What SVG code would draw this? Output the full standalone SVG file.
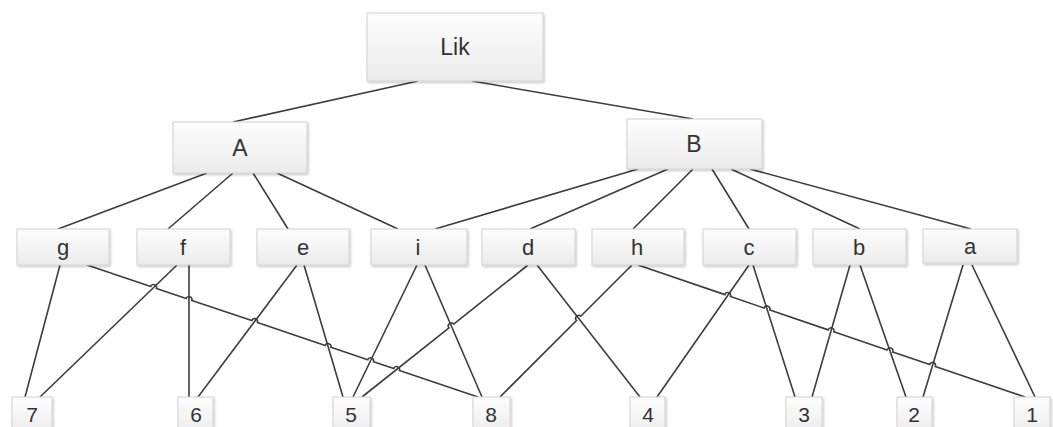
<svg xmlns="http://www.w3.org/2000/svg" width="1053" height="427" viewBox="0 0 1053 427">
<style>
  .box { fill: url(#bg); stroke: #d2d2d2; stroke-width: 1; filter: url(#sh); }
  .t { font-family: "Liberation Sans", Arial, sans-serif; fill: #333; text-anchor: middle; }
  .t1 { font-size: 23px; }
  .t2 { font-size: 22px; }
  .t3 { font-size: 21px; }
  .c line, .c path { stroke: #3d3d3d; stroke-width: 1.6; fill: none; }
</style>
<defs>
  <linearGradient id="bg" x1="0" y1="0" x2="0" y2="1">
    <stop offset="0" stop-color="#fdfdfd"/>
    <stop offset="1" stop-color="#ebebeb"/>
  </linearGradient>
  <filter id="sh" x="-10%" y="-10%" width="120%" height="130%">
    <feDropShadow dx="1.2" dy="1.5" stdDeviation="0.8" flood-color="#000" flood-opacity="0.22"/>
  </filter>
</defs>
<rect width="1053" height="427" fill="#fff"/>

<g id="connectors" class="c">
  <line x1="418" y1="81" x2="233" y2="122"/>
  <line x1="472" y1="81" x2="693" y2="119"/>
  <line x1="207" y1="173" x2="58" y2="229"/>
  <line x1="233" y1="173" x2="168" y2="229"/>
  <line x1="253" y1="173" x2="288" y2="229"/>
  <line x1="277" y1="173" x2="398" y2="229"/>
  <line x1="638" y1="169" x2="435" y2="229"/>
  <line x1="668" y1="169" x2="530" y2="229"/>
  <line x1="693" y1="169" x2="633" y2="229"/>
  <line x1="712" y1="169" x2="749" y2="229"/>
  <line x1="731" y1="169" x2="860" y2="229"/>
  <line x1="750" y1="169" x2="971" y2="229"/>
  <line x1="60" y1="265" x2="25" y2="397"/>
  <path d="M87 265 L150.76 286.52 A3 3 0 0 1 156.44 288.44 L186.16 298.48 A3 3 0 0 1 191.84 300.40 L251.76 320.62 A3 3 0 0 1 257.44 322.54 L325.21 345.42 A3 3 0 0 1 330.89 347.34 L367.76 359.78 A3 3 0 0 1 373.44 361.70 L393.76 368.56 A3 3 0 0 1 399.44 370.48 L478 397"/>
  <line x1="177" y1="265" x2="40" y2="397"/>
  <line x1="189" y1="265" x2="189" y2="397"/>
  <line x1="297" y1="265" x2="198" y2="397"/>
  <line x1="304" y1="265" x2="343" y2="397"/>
  <line x1="417" y1="265" x2="353" y2="397"/>
  <line x1="425" y1="265" x2="482" y2="397"/>
  <path d="M528 265 L453.68 324.10 A3 3 0 0 0 448.98 327.84 L362 397"/>
  <line x1="537" y1="265" x2="640" y2="397"/>
  <path d="M632 265 L580.76 316.24 A3 3 0 0 0 576.52 320.48 L500 397"/>
  <path d="M638 265 L724.86 294.63 A3 3 0 0 1 730.54 296.57 L764.16 308.03 A3 3 0 0 1 769.84 309.97 L828.16 329.86 A3 3 0 0 1 833.84 331.80 L887.06 349.95 A3 3 0 0 1 892.74 351.89 L929.66 364.48 A3 3 0 0 1 935.34 366.42 L1025 397"/>
  <line x1="749" y1="265" x2="657" y2="397"/>
  <line x1="753" y1="265" x2="795" y2="397"/>
  <line x1="850" y1="265" x2="812" y2="397"/>
  <line x1="860" y1="265" x2="906" y2="397"/>
  <line x1="963" y1="265" x2="923" y2="397"/>
  <line x1="972" y1="265" x2="1035" y2="397"/>
</g>

<g id="node-Lik"><rect class="box" x="367" y="13" width="176" height="68"/><text class="t t1" x="455" y="55">Lik</text></g>
<g id="node-A"><rect class="box" x="173" y="122" width="134" height="51"/><text class="t t1" x="240" y="156">A</text></g>
<g id="node-B"><rect class="box" x="627" y="119" width="135" height="50"/><text class="t t1" x="694" y="152">B</text></g>

<g id="node-g"><rect class="box" x="17" y="229" width="92" height="36"/><text class="t t2" x="63" y="255">g</text></g>
<g id="node-f"><rect class="box" x="137" y="229" width="93" height="36"/><text class="t t2" x="183" y="255">f</text></g>
<g id="node-e"><rect class="box" x="257" y="229" width="92" height="36"/><text class="t t2" x="303" y="255">e</text></g>
<g id="node-i"><rect class="box" x="371" y="229" width="96" height="36"/><text class="t t2" x="418" y="255">i</text></g>
<g id="node-d"><rect class="box" x="482" y="229" width="93" height="36"/><text class="t t2" x="528" y="255">d</text></g>
<g id="node-h"><rect class="box" x="592" y="229" width="92" height="36"/><text class="t t2" x="637" y="255">h</text></g>
<g id="node-c"><rect class="box" x="703" y="229" width="93" height="36"/><text class="t t2" x="749" y="255">c</text></g>
<g id="node-b"><rect class="box" x="813" y="229" width="93" height="36"/><text class="t t2" x="859" y="255">b</text></g>
<g id="node-a"><rect class="box" x="923" y="229" width="94" height="34"/><text class="t t2" x="970" y="254">a</text></g>

<g id="node-7"><rect class="box" x="12" y="397" width="40" height="40"/><text class="t t3" x="32" y="422">7</text></g>
<g id="node-6"><rect class="box" x="178" y="397" width="35" height="40"/><text class="t t3" x="196" y="422">6</text></g>
<g id="node-5"><rect class="box" x="333" y="397" width="37" height="40"/><text class="t t3" x="351" y="422">5</text></g>
<g id="node-8"><rect class="box" x="473" y="397" width="37" height="40"/><text class="t t3" x="491" y="422">8</text></g>
<g id="node-4"><rect class="box" x="630" y="397" width="35" height="40"/><text class="t t3" x="648" y="422">4</text></g>
<g id="node-3"><rect class="box" x="786" y="397" width="36" height="40"/><text class="t t3" x="804" y="422">3</text></g>
<g id="node-2"><rect class="box" x="897" y="397" width="35" height="40"/><text class="t t3" x="914" y="422">2</text></g>
<g id="node-1"><rect class="box" x="1014" y="397" width="36" height="40"/><text class="t t3" x="1032" y="422">1</text></g>
</svg>
